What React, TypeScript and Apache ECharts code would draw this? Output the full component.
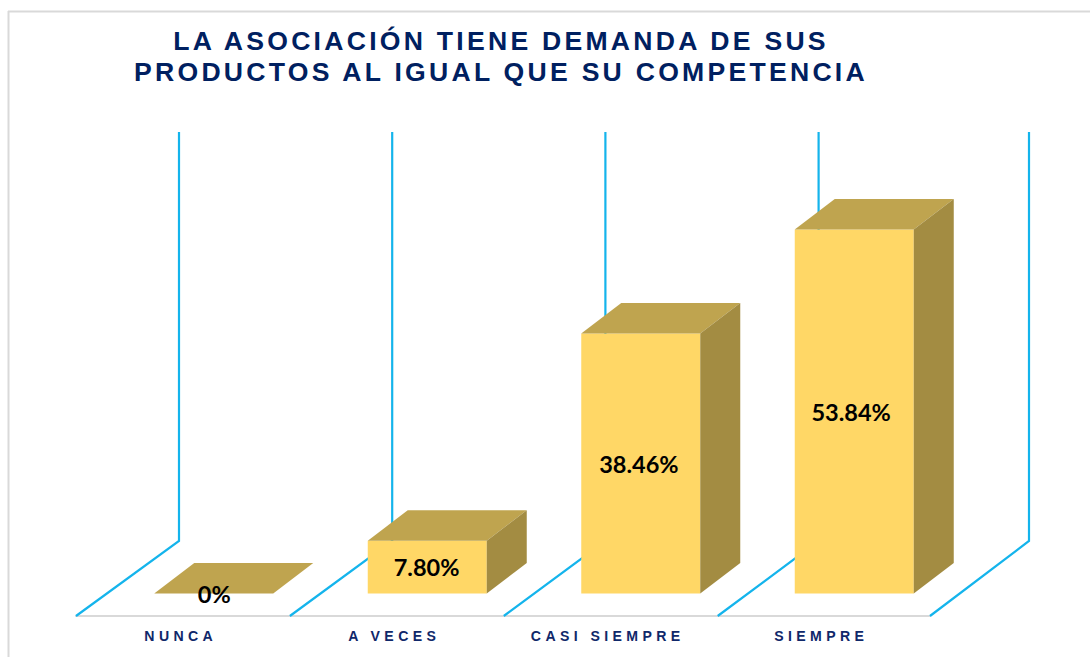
import React, { useEffect, useRef } from "react";
import * as echarts from "echarts";

const titleLines = ["LA ASOCIACIÓN TIENE DEMANDA DE SUS", "PRODUCTOS AL IGUAL QUE SU COMPETENCIA"];
const categories = ["NUNCA", "A VECES", "CASI SIEMPRE", "SIEMPRE"];
const seriesValues = [0, 7.8, 38.46, 53.84];
const valueLabels = ["0%", "7.80%", "38.46%", "53.84%"];
const wallTop = 68.27;

const FRONT = "#FFD766";
const TOP = "#BFA44F";
const SIDE = "#A38C42";
const WALL = "#14B4EC";
const GREY = "#D9D9D9";

const BAR_W = 119;
const BAR_SHIFT = 31;
const DEPTH_X = 40;
const DEPTH_Y = 30.5;

const css = `
.chart3d svg text[style*="26.6px"] { letter-spacing: 3.25px; }
.chart3d svg text[style*="14.1px"] { letter-spacing: 4.4px; }
`;

export default function App() {
  const ref = useRef<HTMLDivElement>(null);
  useEffect(() => {
    const chart = echarts.init(ref.current!, undefined, { renderer: "svg" });
    chart.setOption({
      animation: false,
      backgroundColor: "#fff",
      title: {
        text: titleLines.join("\n"),
        left: 496,
        top: 20,
        textAlign: "center",
        textStyle: {
          fontFamily: "Liberation Sans",
          fontWeight: "bold",
          fontSize: 26.6,
          lineHeight: 31,
          color: "#002060",
        },
      },
      grid: { left: 76, right: 160, top: 120.3, bottom: 63.5 },
      xAxis: {
        type: "category",
        data: categories,
        offset: 22.5,
        axisTick: { show: false },
        axisLine: { onZero: false, lineStyle: { color: GREY, width: 2 } },
        axisLabel: {
          margin: 13,
          padding: [0, 4, 0, 0],
          fontFamily: "Liberation Sans",
          fontWeight: "bold",
          fontSize: 14.1,
          color: "#10286A",
        },
      },
      yAxis: { type: "value", min: 0, max: 70, interval: 10, show: false },
      graphic: [
        { type: "line", shape: { x1: 8.5, y1: 11, x2: 8.5, y2: 657 }, style: { stroke: GREY, lineWidth: 2 }, silent: true },
        { type: "line", shape: { x1: 8, y1: 11.5, x2: 1090, y2: 11.5 }, style: { stroke: GREY, lineWidth: 2 }, silent: true },
      ],
      series: [
        {
          type: "custom",
          clip: false,
          silent: true,
          z: 1,
          data: seriesValues.map((v, i) => [i, v]),
          renderItem: (params: any, api: any) => {
            const i = params.dataIndex;
            const band = api.size([1, 0])[0];
            const zero = api.coord([i, 0]);
            const top = api.coord([i, wallTop])[1];
            const makeWall = (x: number, dx: number) => ({
              type: "polyline",
              shape: { points: [[x, zero[1] + 22.5], [x + dx, zero[1] - 52.5], [x + dx, top]] },
              style: { stroke: WALL, lineWidth: 2.2, fill: "none" },
            });
            const left = zero[0] - band / 2 + i * 0.4;
            const children: any[] = [makeWall(left, 103 - i * 0.7)];
            if (i === categories.length - 1) children.push(makeWall(zero[0] + band / 2, 99));
            return { type: "group", children };
          },
        },
        {
          type: "custom",
          clip: false,
          silent: true,
          z: 2,
          data: seriesValues.map((v, i) => [i, v]),
          renderItem: (params: any, api: any) => {
            const i = params.dataIndex;
            const base = api.coord([i, 0]);
            const tip = api.coord([i, api.value(1)]);
            const x0 = base[0] + BAR_SHIFT - BAR_W / 2;
            const x1 = x0 + BAR_W;
            const y0 = tip[1];
            const y1 = base[1];
            return {
              type: "group",
              children: [
                { type: "rect", shape: { x: x0, y: y0, width: BAR_W, height: y1 - y0 }, style: { fill: FRONT } },
                {
                  type: "polygon",
                  shape: { points: [[x0, y0], [x0 + DEPTH_X, y0 - DEPTH_Y], [x1 + DEPTH_X, y0 - DEPTH_Y], [x1, y0]] },
                  style: { fill: TOP },
                },
                {
                  type: "polygon",
                  shape: { points: [[x1, y0], [x1 + DEPTH_X, y0 - DEPTH_Y], [x1 + DEPTH_X, y1 - DEPTH_Y], [x1, y1]] },
                  style: { fill: SIDE },
                },
                {
                  type: "text",
                  z2: 10,
                  style: {
                    x: (x0 + x1) / 2 + 0.5 - i * 1.2,
                    y: (y0 + y1) / 2,
                    text: valueLabels[i],
                    align: "center",
                    verticalAlign: "middle",
                    fontFamily: "Lato",
                    fontWeight: "bold",
                    fontSize: 23.5,
                    fill: "#000",
                  },
                },
              ],
            };
          },
        },
      ],
    });
    return () => chart.dispose();
  }, []);
  return (
    <>
      <style>{css}</style>
      <div
        ref={ref}
        className="chart3d"
        style={{ position: "fixed", left: 0, top: 0, width: 1090, height: 657 }}
      />
    </>
  );
}
